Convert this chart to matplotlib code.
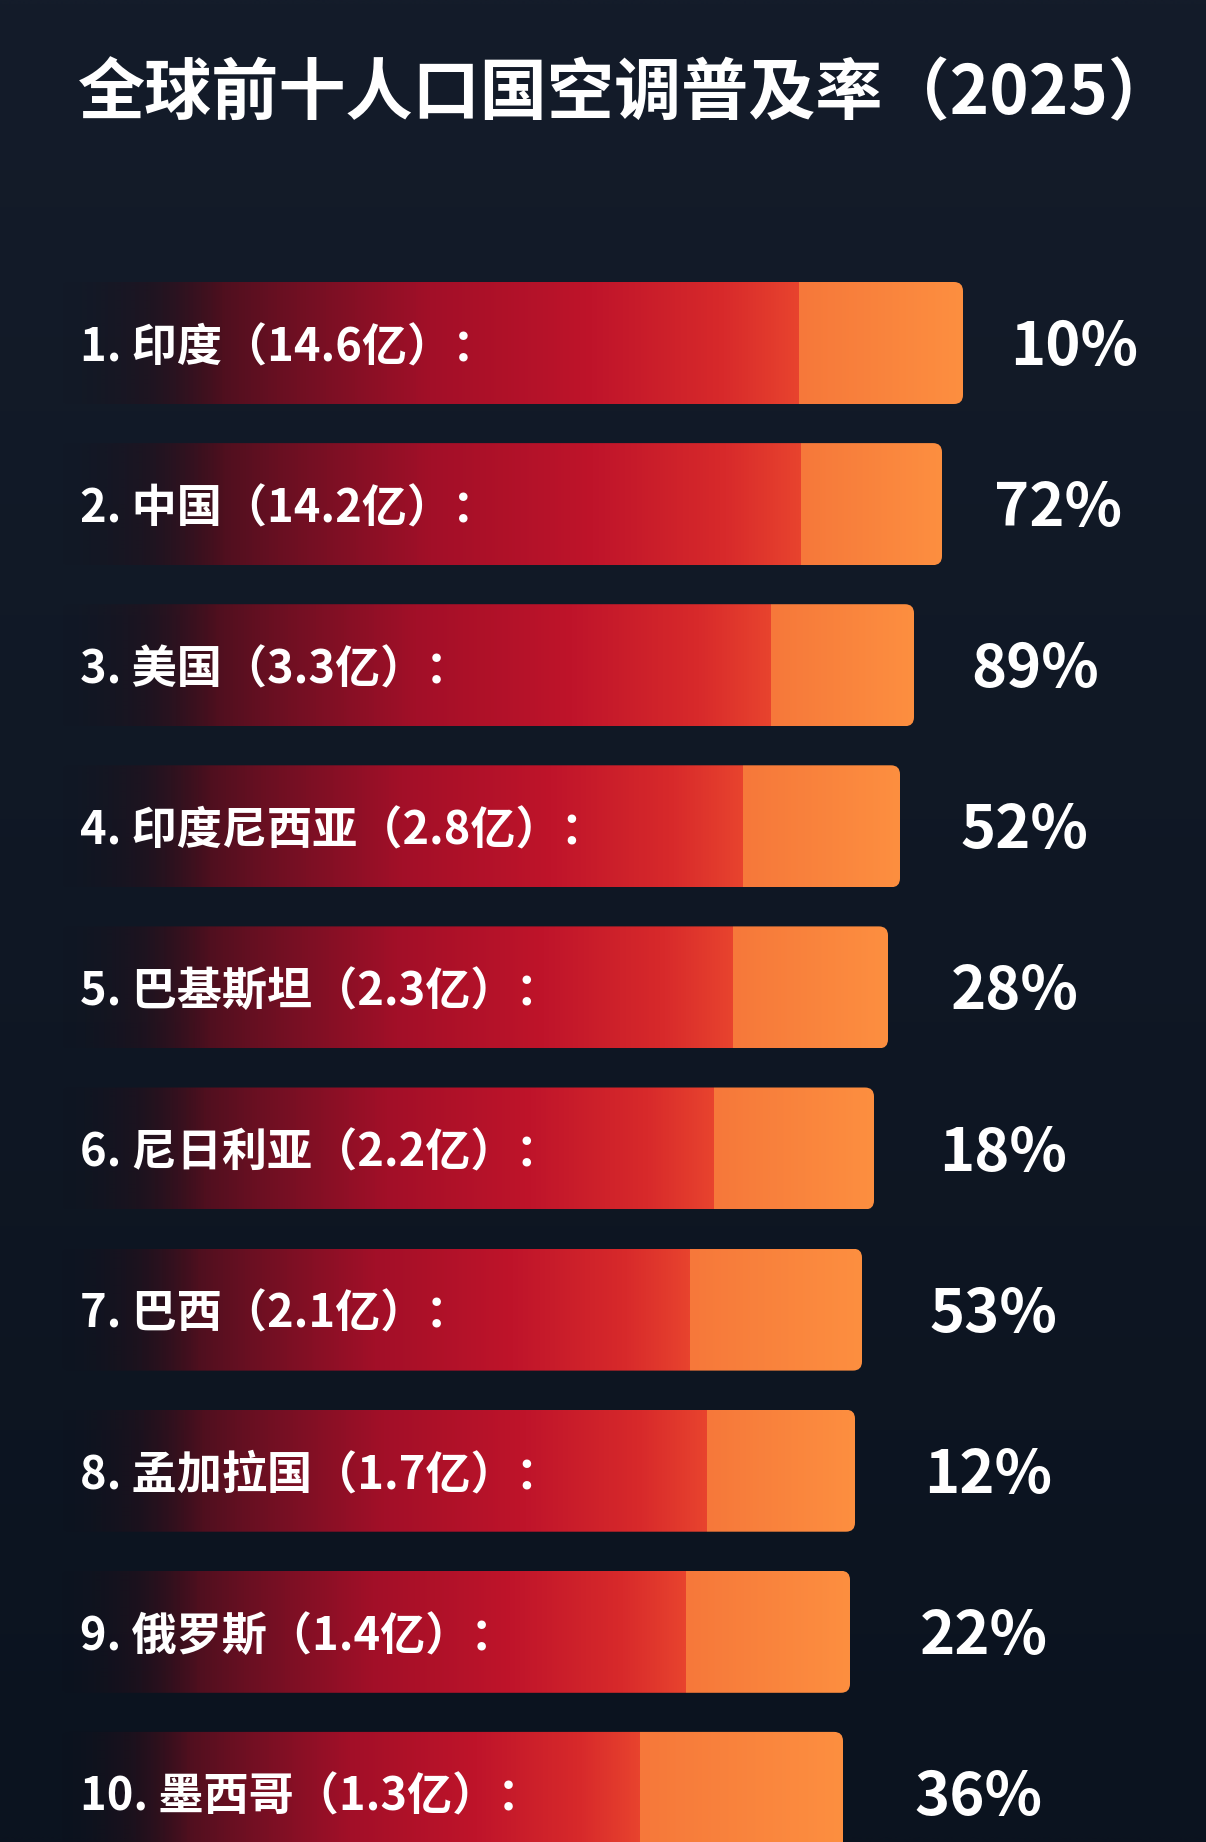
import matplotlib
matplotlib.use('Agg')
import matplotlib.pyplot as plt
import numpy as np
from matplotlib.colors import LinearSegmentedColormap, to_rgb
from matplotlib.patches import FancyBboxPatch

plt.rcParams['font.family'] = ['Noto Sans CJK SC', 'DejaVu Sans']

# Data
countries = ['印度', '中国', '美国', '印度尼西亚', '巴基斯坦',
             '尼日利亚', '巴西', '孟加拉国', '俄罗斯', '墨西哥']
population = ['14.6', '14.2', '3.3', '2.8', '2.3', '2.2', '2.1', '1.7', '1.4', '1.3']   # 亿
ac_rate = [10, 72, 89, 52, 28, 18, 53, 12, 22, 36]                                      # %
# decorative bar length and where the orange segment starts (pixel units of the poster)
bar_end = [963, 942, 914, 900, 888, 874, 862, 855, 850, 843]
bar_split = [799, 801, 771, 743, 733, 714, 690, 707, 686, 640]

title = '全球前十人口国空调普及率（2025）'

W, H = 1206, 1842
fig = plt.figure(figsize=(W / 100, H / 100), dpi=100)
ax = fig.add_axes([0, 0, 1, 1])
ax.set_xlim(0, W)
ax.set_ylim(H, 0)
ax.axis('off')

# --- background: dark navy, slightly lighter at top ---
bg_top = np.array(to_rgb('#141c2a'))
bg_bot = np.array(to_rgb('#0b131f'))
t = np.linspace(0, 1, 200)[:, None, None]
bg = bg_top * (1 - t) + bg_bot * t
bg = np.repeat(bg, 2, axis=1)
ax.imshow(bg, extent=(0, W, H, 0), aspect='auto', zorder=0, interpolation='bilinear')

red_cmap = LinearSegmentedColormap.from_list('red', [
    (0.00, '#1e0f18'),
    (0.12, '#2e0f1b'),
    (0.30, '#6a1022'),
    (0.50, '#a20f28'),
    (0.72, '#bf142a'),
    (0.90, '#d82a2b'),
    (1.00, '#e8432e'),
])
orange_cmap = LinearSegmentedColormap.from_list('orange', ['#f6783a', '#fd8f40'])

bar_left = 60
first_center = 343
pitch = 161.1
bar_h = 122
row_y = first_center + np.arange(len(countries)) * pitch

for i, y in enumerate(row_y):
    end, split = bar_end[i], bar_split[i]
    xs = np.arange(bar_left, end)
    cols = np.ones((len(xs), 4))
    red_part = xs < split
    frac = (xs[red_part] - bar_left) / (split - bar_left)
    cols[red_part] = red_cmap(frac)
    cols[red_part, 3] = np.clip(frac / 0.22, 0, 1) ** 1.3
    cols[~red_part] = orange_cmap((xs[~red_part] - split) / max(end - split, 1))
    img = ax.imshow(cols[None, :, :], extent=(bar_left, end, y + bar_h / 2, y - bar_h / 2),
                    aspect='auto', zorder=2, interpolation='bilinear')
    clip = FancyBboxPatch((bar_left, y - bar_h / 2), end - bar_left, bar_h,
                          boxstyle='round,pad=0,rounding_size=9',
                          transform=ax.transData, facecolor='none', edgecolor='none')
    ax.add_patch(clip)
    img.set_clip_path(clip)

    ax.text(80, y + 5, f'{i + 1}. {countries[i]}（{population[i]}亿）：',
            color='white', fontsize=32.5, fontweight='bold', va='center', ha='left', zorder=3)
    ax.text(0.8 * end + 240, y + 5, f'{ac_rate[i]}%',
            color='white', fontsize=43, fontweight='bold', va='center', ha='left', zorder=3)

ax.text(78, 95, title, color='white', fontsize=48.3, fontweight='bold',
        va='center', ha='left', zorder=3)

fig.savefig('out.png', dpi=100, facecolor='#111925')
